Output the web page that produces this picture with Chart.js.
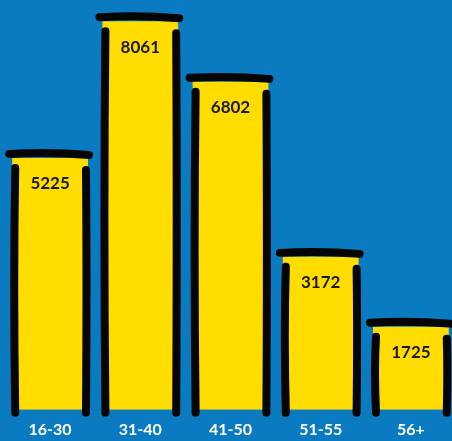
<!DOCTYPE html>
<html><head><meta charset="utf-8">
<script src="https://cdn.jsdelivr.net/npm/chart.js@4.4.1/dist/chart.umd.min.js"></script>
<style>
html,body{margin:0;padding:0;background:#0a7bc1;overflow:hidden;width:452px;height:441px}
#wrap{position:absolute;left:5px;top:0;width:451px;height:441px}
</style></head>
<body><div id="wrap"><canvas id="c" width="451" height="441"></canvas></div>
<script>
const categories = ["16-30","31-40","41-50","51-55","56+"];
const values = [5225, 8061, 6802, 3172, 1725];

const sketchPlugin = {
  id: 'sketch',
  afterDatasetsDraw(chart) {
    const ctx = chart.ctx;
    const meta = chart.getDatasetMeta(0);
    ctx.save();
    ctx.strokeStyle = '#050505';
    ctx.lineCap = 'round';
    ctx.lineWidth = 8;
    meta.data.forEach((bar, i) => {
      const l = bar.x - bar.width/2, r = bar.x + bar.width/2;
      const t = bar.y, b = bar.base;
      ctx.beginPath();
      ctx.moveTo(l - 3, t - 4);
      ctx.quadraticCurveTo(bar.x, t - 6, r + 1, t - 3);
      ctx.stroke();
      ctx.beginPath();
      ctx.moveTo(l + 3, t + 10);
      ctx.quadraticCurveTo(l + 1, (t + b)/2, l + 3, b + 3);
      ctx.stroke();
      ctx.beginPath();
      ctx.moveTo(r - 2, t + 12);
      ctx.quadraticCurveTo(r - 1, (t + b)/2, r - 2, b + 3);
      ctx.stroke();
      ctx.fillStyle = '#1a1a1a';
      ctx.font = 'bold 17px Lato, "Open Sans", sans-serif';
      ctx.textAlign = 'center';
      ctx.textBaseline = 'middle';
      ctx.fillText(String(values[i]), bar.x, t + 26);
    });
    ctx.restore();
  }
};

new Chart(document.getElementById('c'), {
  type: 'bar',
  data: {
    labels: categories,
    datasets: [{
      data: values,
      backgroundColor: '#ffdd00',
      borderWidth: 0,
      barPercentage: 0.84,
      categoryPercentage: 1.0
    }]
  },
  options: {
    responsive: false,
    animation: false,
    layout: { padding: 0 },
    plugins: { legend: { display: false }, tooltip: { enabled: false } },
    scales: {
      x: {
        grid: { display: false },
        border: { display: false },
        ticks: { color: '#ffffff', font: { family: 'Lato, "Open Sans", sans-serif', size: 16, weight: 'bold' }, padding: 2, maxRotation: 0 }
      },
      y: { display: false, min: 0, max: 8500 }
    }
  },
  plugins: [sketchPlugin]
});
</script>
</body></html>
